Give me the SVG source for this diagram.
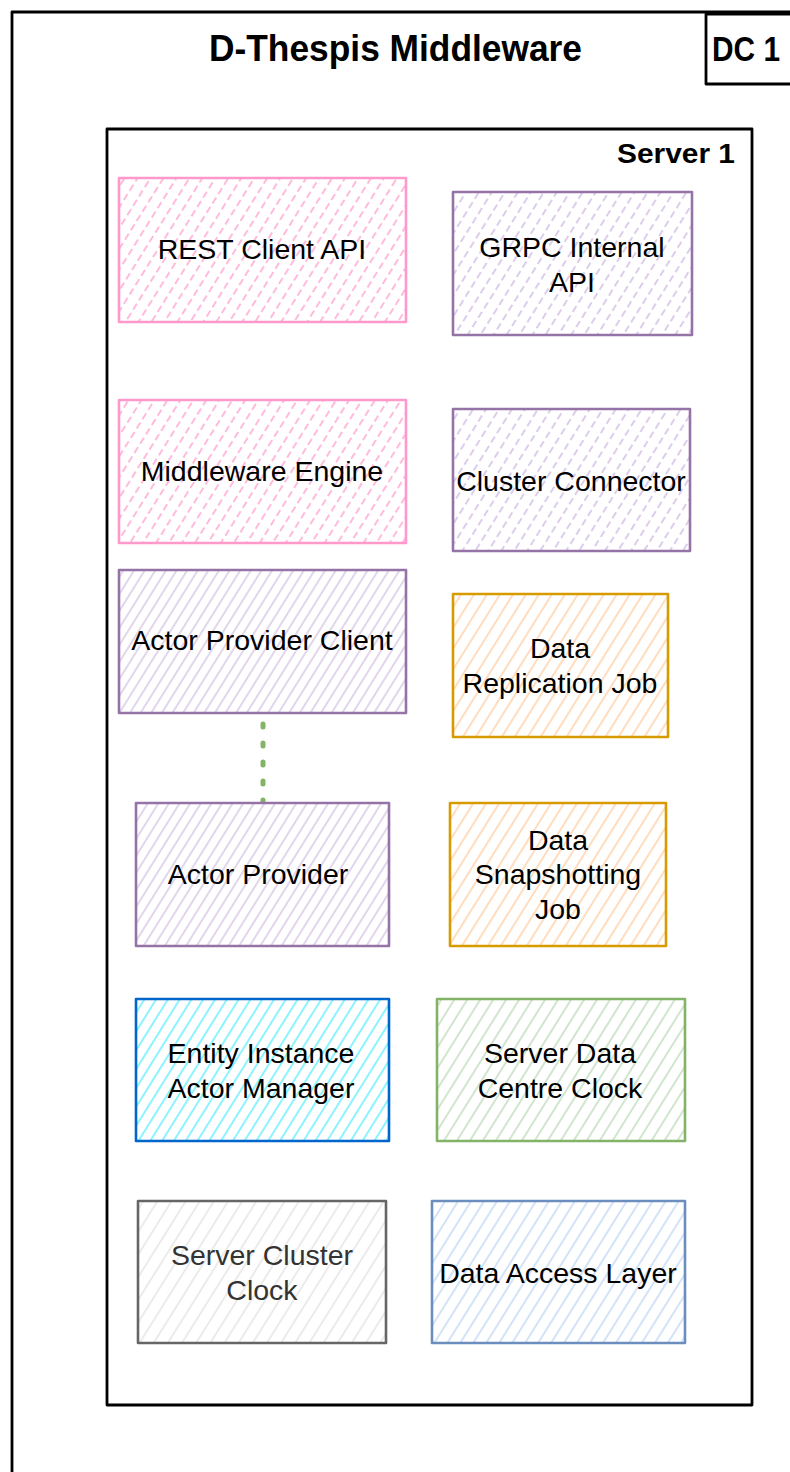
<svg xmlns="http://www.w3.org/2000/svg" width="790" height="1472" viewBox="0 0 790 1472">
  <defs>
    <!-- diagonal hatch fills, one per colour scheme -->
    <pattern id="hatch-pink" width="11" height="11" patternUnits="userSpaceOnUse" patternTransform="rotate(32)">
      <line x1="2" y1="0" x2="2" y2="11" stroke="#FFAAD4" stroke-width="1.6" stroke-dasharray="5 4"/>
    </pattern>
    <pattern id="hatch-purple-dash" width="11" height="11" patternUnits="userSpaceOnUse" patternTransform="rotate(32)">
      <line x1="2" y1="0" x2="2" y2="11" stroke="#D4C2E6" stroke-width="1.6" stroke-dasharray="5 4"/>
    </pattern>
    <pattern id="hatch-purple" width="9" height="9" patternUnits="userSpaceOnUse" patternTransform="rotate(32)">
      <line x1="2" y1="0" x2="2" y2="9" stroke="#D8C8E4" stroke-width="1.5"/>
    </pattern>
    <pattern id="hatch-orange" width="11" height="11" patternUnits="userSpaceOnUse" patternTransform="rotate(32)">
      <line x1="2" y1="0" x2="2" y2="11" stroke="#FFD9B8" stroke-width="1.8"/>
    </pattern>
    <pattern id="hatch-cyan" width="10" height="10" patternUnits="userSpaceOnUse" patternTransform="rotate(32)">
      <line x1="2" y1="0" x2="2" y2="10" stroke="#80F2FF" stroke-width="1.8"/>
    </pattern>
    <pattern id="hatch-green" width="11" height="11" patternUnits="userSpaceOnUse" patternTransform="rotate(32)">
      <line x1="2" y1="0" x2="2" y2="11" stroke="#CCE3C9" stroke-width="1.8"/>
    </pattern>
    <pattern id="hatch-grey" width="12" height="12" patternUnits="userSpaceOnUse" patternTransform="rotate(32)">
      <line x1="2" y1="0" x2="2" y2="12" stroke="#E6E6E6" stroke-width="1.6"/>
    </pattern>
    <pattern id="hatch-blue" width="11" height="11" patternUnits="userSpaceOnUse" patternTransform="rotate(32)">
      <line x1="2" y1="0" x2="2" y2="11" stroke="#CFE0F7" stroke-width="1.8"/>
    </pattern>
  </defs>
  <style>
    .frame { fill: none; stroke: #000000; stroke-width: 2.8; stroke-linejoin: round; }
    .box { stroke-width: 2.6; stroke-linejoin: round; }
    .label { font-family: "Liberation Sans", Arial, sans-serif; font-size: 28.5px; fill: #000000; text-anchor: middle; }
    .heading { font-family: "Liberation Sans", Arial, sans-serif; font-weight: bold; fill: #000000; }
    .pink { fill: url(#hatch-pink); stroke: #FF99CC; }
    .purple-dash { fill: url(#hatch-purple-dash); stroke: #9673A6; }
    .purple { fill: url(#hatch-purple); stroke: #9673A6; }
    .orange { fill: url(#hatch-orange); stroke: #D79B00; }
    .cyan { fill: url(#hatch-cyan); stroke: #0066CC; }
    .green { fill: url(#hatch-green); stroke: #82B366; }
    .grey { fill: url(#hatch-grey); stroke: #666666; }
    .blue { fill: url(#hatch-blue); stroke: #6C8EBF; }
    .link { fill: none; stroke: #82B366; stroke-width: 5; stroke-dasharray: 3 16; stroke-linecap: round; }
  </style>

  <rect width="790" height="1472" fill="#FFFFFF"/>

  <!-- data centre frame -->
  <g id="dc-frame">
    <rect class="frame" x="12" y="12" width="820" height="1520" stroke-width="3"/>
    <text class="heading" x="395.5" y="61" font-size="36" text-anchor="middle" textLength="373" lengthAdjust="spacingAndGlyphs">D-Thespis Middleware</text>
  </g>

  <g id="dc-tag">
    <rect class="frame" x="706" y="14" width="120" height="70"/>
    <text class="heading" x="712" y="61" font-size="35" textLength="68" lengthAdjust="spacingAndGlyphs">DC 1</text>
  </g>

  <!-- server frame -->
  <g id="server-1">
    <rect class="frame" x="107" y="129" width="645" height="1276"/>
    <text class="heading" x="735" y="163" font-size="28" text-anchor="end" textLength="118" lengthAdjust="spacingAndGlyphs">Server 1</text>
  </g>

  <!-- connectors -->
  <g id="connectors">
    <line class="link" x1="263" y1="724" x2="263" y2="801"/>
  </g>

  <!-- components -->
  <g id="rest-client-api">
    <rect class="box pink" x="119" y="178" width="287" height="144"/>
    <text class="label" x="262" y="259">REST Client API</text>
  </g>

  <g id="grpc-internal-api">
    <rect class="box purple-dash" x="453" y="192" width="239" height="143"/>
    <text class="label" x="572" y="257">GRPC Internal</text>
    <text class="label" x="572" y="292">API</text>
  </g>

  <g id="middleware-engine">
    <rect class="box pink" x="119" y="400" width="287" height="143"/>
    <text class="label" x="262" y="481">Middleware Engine</text>
  </g>

  <g id="cluster-connector">
    <rect class="box purple-dash" x="453" y="409" width="237" height="142"/>
    <text class="label" x="571" y="491">Cluster Connector</text>
  </g>

  <g id="actor-provider-client">
    <rect class="box purple" x="119" y="570" width="287" height="143"/>
    <text class="label" x="262" y="650">Actor Provider Client</text>
  </g>

  <g id="data-replication-job">
    <rect class="box orange" x="453" y="594" width="215" height="143"/>
    <text class="label" x="560" y="658">Data</text>
    <text class="label" x="560" y="693">Replication Job</text>
  </g>

  <g id="actor-provider">
    <rect class="box purple" x="136" y="803" width="253" height="143"/>
    <text class="label" x="258" y="884">Actor Provider</text>
  </g>

  <g id="data-snapshotting-job">
    <rect class="box orange" x="450" y="803" width="216" height="143"/>
    <text class="label" x="558" y="850">Data</text>
    <text class="label" x="558" y="884">Snapshotting</text>
    <text class="label" x="558" y="919">Job</text>
  </g>

  <g id="entity-instance-actor-manager">
    <rect class="box cyan" x="136" y="999" width="253" height="142"/>
    <text class="label" x="261" y="1063">Entity Instance</text>
    <text class="label" x="261" y="1098">Actor Manager</text>
  </g>

  <g id="server-data-centre-clock">
    <rect class="box green" x="437" y="999" width="248" height="142"/>
    <text class="label" x="560" y="1063">Server Data</text>
    <text class="label" x="560" y="1098">Centre Clock</text>
  </g>

  <g id="server-cluster-clock">
    <rect class="box grey" x="138" y="1201" width="248" height="142"/>
    <text class="label" x="262" y="1265" style="fill:#333333">Server Cluster</text>
    <text class="label" x="262" y="1300" style="fill:#333333">Clock</text>
  </g>

  <g id="data-access-layer">
    <rect class="box blue" x="432" y="1201" width="253" height="142"/>
    <text class="label" x="558" y="1283">Data Access Layer</text>
  </g>
</svg>
